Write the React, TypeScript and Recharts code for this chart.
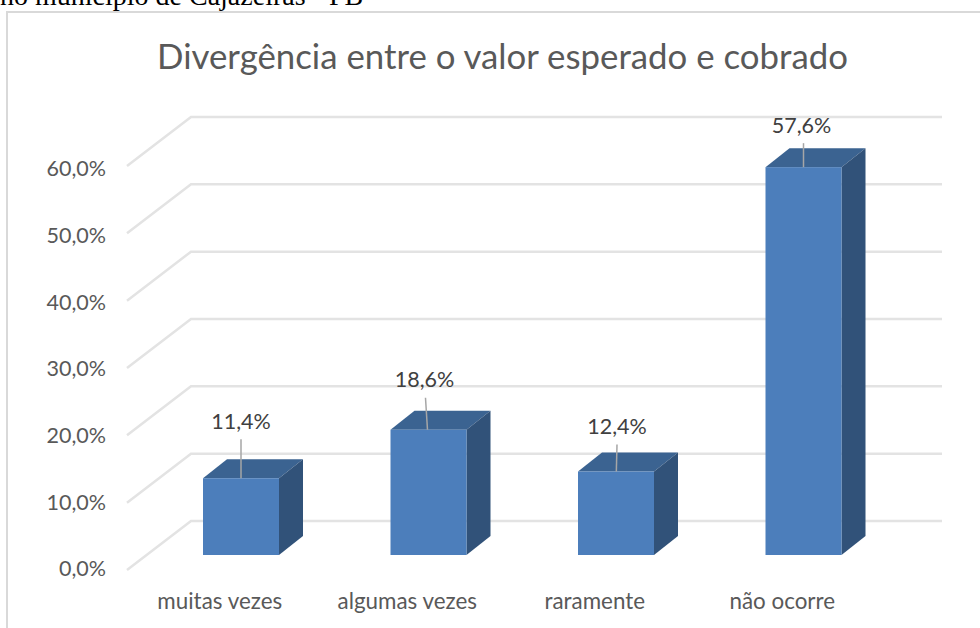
import { Bar, BarChart, CartesianGrid, LabelList, XAxis, YAxis } from 'recharts'

const CATEGORIES = ['muitas vezes', 'algumas vezes', 'raramente', 'não ocorre']
const PERCENTS = [11.4, 18.6, 12.4, 57.6]
const Y_TICKS = [0, 10, 20, 30, 40, 50, 60]

const data = CATEGORIES.map((name, i) => ({ name, value: PERCENTS[i] }))

// depth of the fake 3D box, in px
const DEPTH_X = 24
const DEPTH_Y = 19

const pct = (v: number) => `${v.toFixed(1).replace('.', ',')}%`

const FONT = 'Lato, "Open Sans", sans-serif'

// Excel's leader lines don't sit quite straight, so each label gets a nudge
const LEADERS = [
  { labelDx: 0, length: 39, lineDx: 0 },
  { labelDx: -4, length: 32, lineDx: -3 },
  { labelDx: 1, length: 27, lineDx: 1 },
  { labelDx: -2, length: 24, lineDx: 0 },
]

function Box3D({ x, y, width, height }: any) {
  const r = x + width
  const b = y + height
  return (
    <g>
      <polygon
        points={`${x},${y} ${x + DEPTH_X},${y - DEPTH_Y} ${r + DEPTH_X},${y - DEPTH_Y} ${r},${y}`}
        fill="#3b6391"
      />
      <polygon
        points={`${r},${y} ${r + DEPTH_X},${y - DEPTH_Y} ${r + DEPTH_X},${b - DEPTH_Y} ${r},${b}`}
        fill="#315279"
      />
      <rect x={x} y={y} width={width} height={height} fill="#4c7ebb" />
    </g>
  )
}

function WallLine({ x1, x2, y1 }: any) {
  const wallX = x1 + 44
  return (
    <polyline
      points={`${x1 - 20},${y1 + 15} ${wallX},${y1 - 34} ${x2 + 45},${y1 - 34}`}
      fill="none"
      stroke="#e3e3e3"
      strokeWidth={2.5}
    />
  )
}

function ValueLabel({ x, y, width, value, index }: any) {
  const nudge = LEADERS[index]
  const cx = x + width / 2
  return (
    <g>
      <line
        x1={cx + nudge.lineDx}
        y1={y - nudge.length}
        x2={cx + nudge.lineDx / 3}
        y2={y}
        stroke="#a6a6a6"
        strokeWidth={1.5}
      />
      <text
        x={cx + nudge.labelDx}
        y={y - nudge.length - 16}
        textAnchor="middle"
        dominantBaseline="middle"
        fontSize={21.5}
        fontFamily={FONT}
        fill="#404040"
      >
        {pct(value)}
      </text>
    </g>
  )
}

function YTick({ y, payload }: any) {
  // labels run on a slightly tighter spacing than the bars' scale
  const dy = 16 + (payload.value / 60) * 4
  return (
    <text x={106} y={y + dy} textAnchor="end" dominantBaseline="middle" fontSize={21.5} fontFamily={FONT} fill="#595959">
      {pct(payload.value)}
    </text>
  )
}

function XTick({ x, y, payload }: any) {
  return (
    <text x={x - 21} y={y + 40} textAnchor="middle" dominantBaseline="middle" fontSize={22.4} fontFamily={FONT} fill="#595959">
      {payload.value}
    </text>
  )
}

export default function App() {
  return (
    <div style={{ position: 'absolute', left: 0, top: 0, width: 980, height: 628, overflow: 'hidden', background: '#fff' }}>
      <div
        style={{
          position: 'absolute',
          left: 0,
          top: -20,
          fontFamily: '"Liberation Serif", serif',
          fontSize: 28,
          color: '#000',
          whiteSpace: 'nowrap',
        }}
      >
        no município de Cajazeiras - PB
      </div>
      <div
        style={{
          position: 'absolute',
          left: 6,
          top: 11,
          width: 980,
          height: 640,
          border: '2px solid #d9d9d9',
        }}
      />
      <div
        style={{
          position: 'absolute',
          left: 0,
          width: 1005,
          top: 35,
          textAlign: 'center',
          fontFamily: FONT,
          fontSize: 34.8,
          color: '#595959',
          whiteSpace: 'nowrap',
        }}
      >
        Divergência entre o valor esperado e cobrado
      </div>
      <BarChart
        width={980}
        height={628}
        data={data}
        margin={{ top: 151, right: 83, bottom: 33, left: 87 }}
        barSize={76}
        style={{ position: 'absolute', left: 0, top: 0 }}
      >
        <CartesianGrid vertical={false} horizontal={(p: any) => <WallLine key={p.index} {...p} />} />
        <XAxis dataKey="name" height={40} axisLine={false} tickLine={false} tick={XTick} interval={0} />
        <YAxis width={60} domain={[0, 60]} ticks={Y_TICKS} axisLine={false} tickLine={false} tick={YTick} />
        <Bar dataKey="value" shape={Box3D} isAnimationActive={false}>
          <LabelList dataKey="value" content={ValueLabel} />
        </Bar>
      </BarChart>
    </div>
  )
}
